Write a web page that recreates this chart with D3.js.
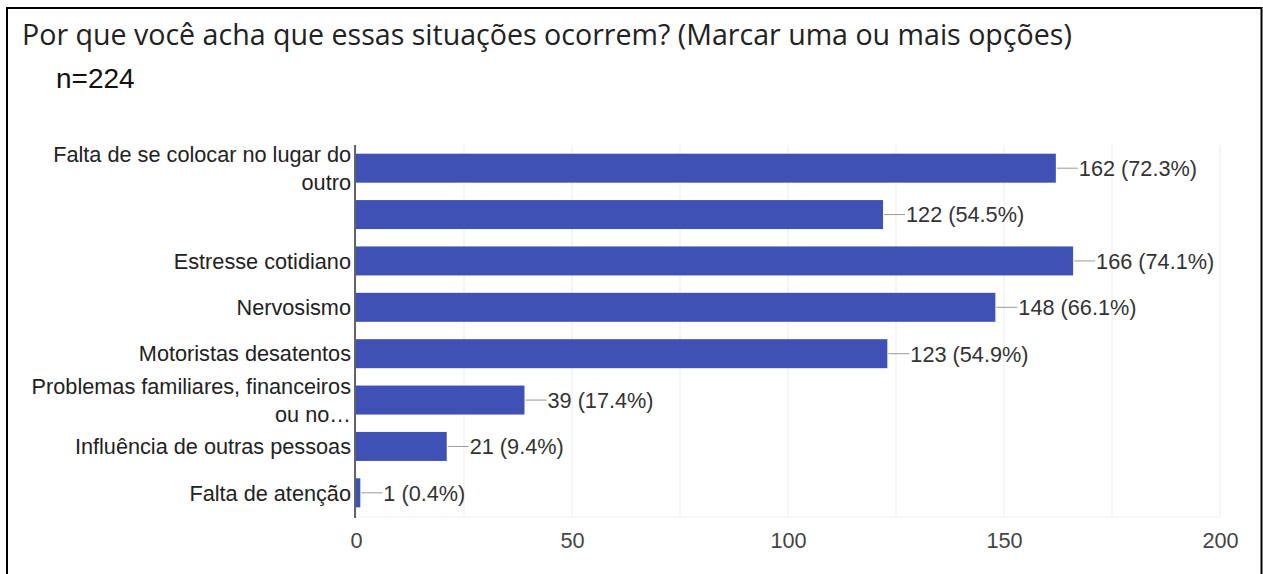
<!DOCTYPE html>
<html>
<head>
<meta charset="utf-8">
<script src="https://cdn.jsdelivr.net/npm/d3@7"></script>
<style>
  body { margin: 0; background: #fff; }
  svg { display: block; }
</style>
</head>
<body>
<div class="container"></div>
<script>
const categories = [
  ["Falta de se colocar no lugar do", "outro"],
  [""],
  ["Estresse cotidiano"],
  ["Nervosismo"],
  ["Motoristas desatentos"],
  ["Problemas familiares, financeiros", "ou no…"],
  ["Influência de outras pessoas"],
  ["Falta de atenção"]
];
const counts = [162, 122, 166, 148, 123, 39, 21, 1];
const percents = ["72.3%", "54.5%", "74.1%", "66.1%", "54.9%", "17.4%", "9.4%", "0.4%"];
const gridTicks = [0, 25, 50, 75, 100, 125, 150, 175, 200];
const labelTicks = [0, 50, 100, 150, 200];

const w = 1263;
const h = 574;
const plotLeft = 356, plotRight = 1220, plotTop = 145, plotBottom = 516;
const labelFont = "'Liberation Sans', Arial, sans-serif";
const labelSize = 21.7;

const svg = d3.select(".container")
  .append("svg")
  .attr("width", w)
  .attr("height", h);

// frame
svg.append("path")
  .attr("d", "M7,580 V8 H1261.5 V580")
  .attr("fill", "none")
  .attr("stroke", "#000")
  .attr("stroke-width", 2);

const title = svg.append("text")
  .attr("x", 22)
  .attr("y", 45)
  .attr("font-family", "'Open Sans', Roboto, sans-serif")
  .attr("font-size", 25)
  .attr("fill", "#222")
  .text("Por que você acha que essas situações ocorrem? (Marcar uma ou mais opções)");
// the reference title runs from x=22 to about x=1072
const tl = title.node().getComputedTextLength();
title.attr("font-size", 25 * 1050 / tl);

svg.append("text")
  .attr("x", 56)
  .attr("y", 88)
  .attr("font-family", labelFont)
  .attr("font-size", 28)
  .attr("fill", "#111")
  .text("n=224");

const xScale = d3.scaleLinear().domain([0, 200]).range([plotLeft, plotRight]);
const yScale = d3.scaleBand()
  .domain(d3.range(categories.length))
  .range([plotTop, plotBottom])
  .paddingInner(0.375)
  .paddingOuter(0.1875);

// grid
svg.append("g")
  .selectAll("line")
  .data(gridTicks)
  .enter()
  .append("line")
  .attr("x1", d => xScale(d))
  .attr("x2", d => xScale(d))
  .attr("y1", plotTop)
  .attr("y2", plotBottom + 1)
  .attr("stroke", "#ebebeb")
  .attr("stroke-width", 1);

svg.append("line")
  .attr("x1", plotLeft).attr("x2", plotRight)
  .attr("y1", plotBottom + 1).attr("y2", plotBottom + 1)
  .attr("stroke", "#f0f0f0");

// x axis labels
const xAxis = d3.axisBottom(xScale)
  .tickValues(labelTicks)
  .tickSize(0)
  .tickPadding(0);

const gx = svg.append("g")
  .attr("transform", "translate(0," + plotBottom + ")")
  .call(xAxis);
gx.select(".domain").remove();
gx.selectAll("text")
  .attr("dy", null)
  .attr("y", 32)
  .attr("font-family", labelFont)
  .attr("font-size", labelSize)
  .attr("fill", "#444");

// bars
svg.append("g")
  .selectAll("rect")
  .data(counts)
  .enter()
  .append("rect")
  .attr("x", xScale(0))
  .attr("y", (d, i) => yScale(i))
  .attr("width", d => xScale(d) - xScale(0))
  .attr("height", yScale.bandwidth())
  .attr("fill", "#3f51b5");

// value labels
const vl = svg.append("g")
  .selectAll("g")
  .data(counts)
  .enter()
  .append("g")
  .attr("transform", (d, i) => "translate(" + xScale(d) + "," + (yScale(i) + yScale.bandwidth() / 2) + ")");

vl.append("line")
  .attr("x1", 1)
  .attr("x2", 22)
  .attr("stroke", "#999")
  .attr("stroke-width", 1);

vl.append("text")
  .attr("x", 23)
  .attr("dy", "0.36em")
  .attr("font-family", labelFont)
  .attr("font-size", labelSize)
  .attr("fill", "#333")
  .text((d, i) => d + " (" + percents[i] + ")");

// category labels
const cl = svg.append("g")
  .selectAll("text")
  .data(categories)
  .enter()
  .append("text")
  .attr("text-anchor", "end")
  .attr("font-family", labelFont)
  .attr("font-size", labelSize)
  .attr("fill", "#222");

cl.each(function(lines, i) {
  const cy = yScale(i) + yScale.bandwidth() / 2;
  const lh = 28;
  const y0 = cy - (lines.length - 1) * lh / 2;
  d3.select(this).selectAll("tspan")
    .data(lines)
    .enter()
    .append("tspan")
    .attr("x", 351)
    .attr("y", (d, j) => y0 + j * lh)
    .attr("dy", "0.36em")
    .text(d => d);
});

// axis line
svg.append("line")
  .attr("x1", plotLeft - 1).attr("x2", plotLeft - 1)
  .attr("y1", plotTop).attr("y2", plotBottom + 2)
  .attr("stroke", "#333")
  .attr("stroke-width", 1.5);
</script>
</body>
</html>
